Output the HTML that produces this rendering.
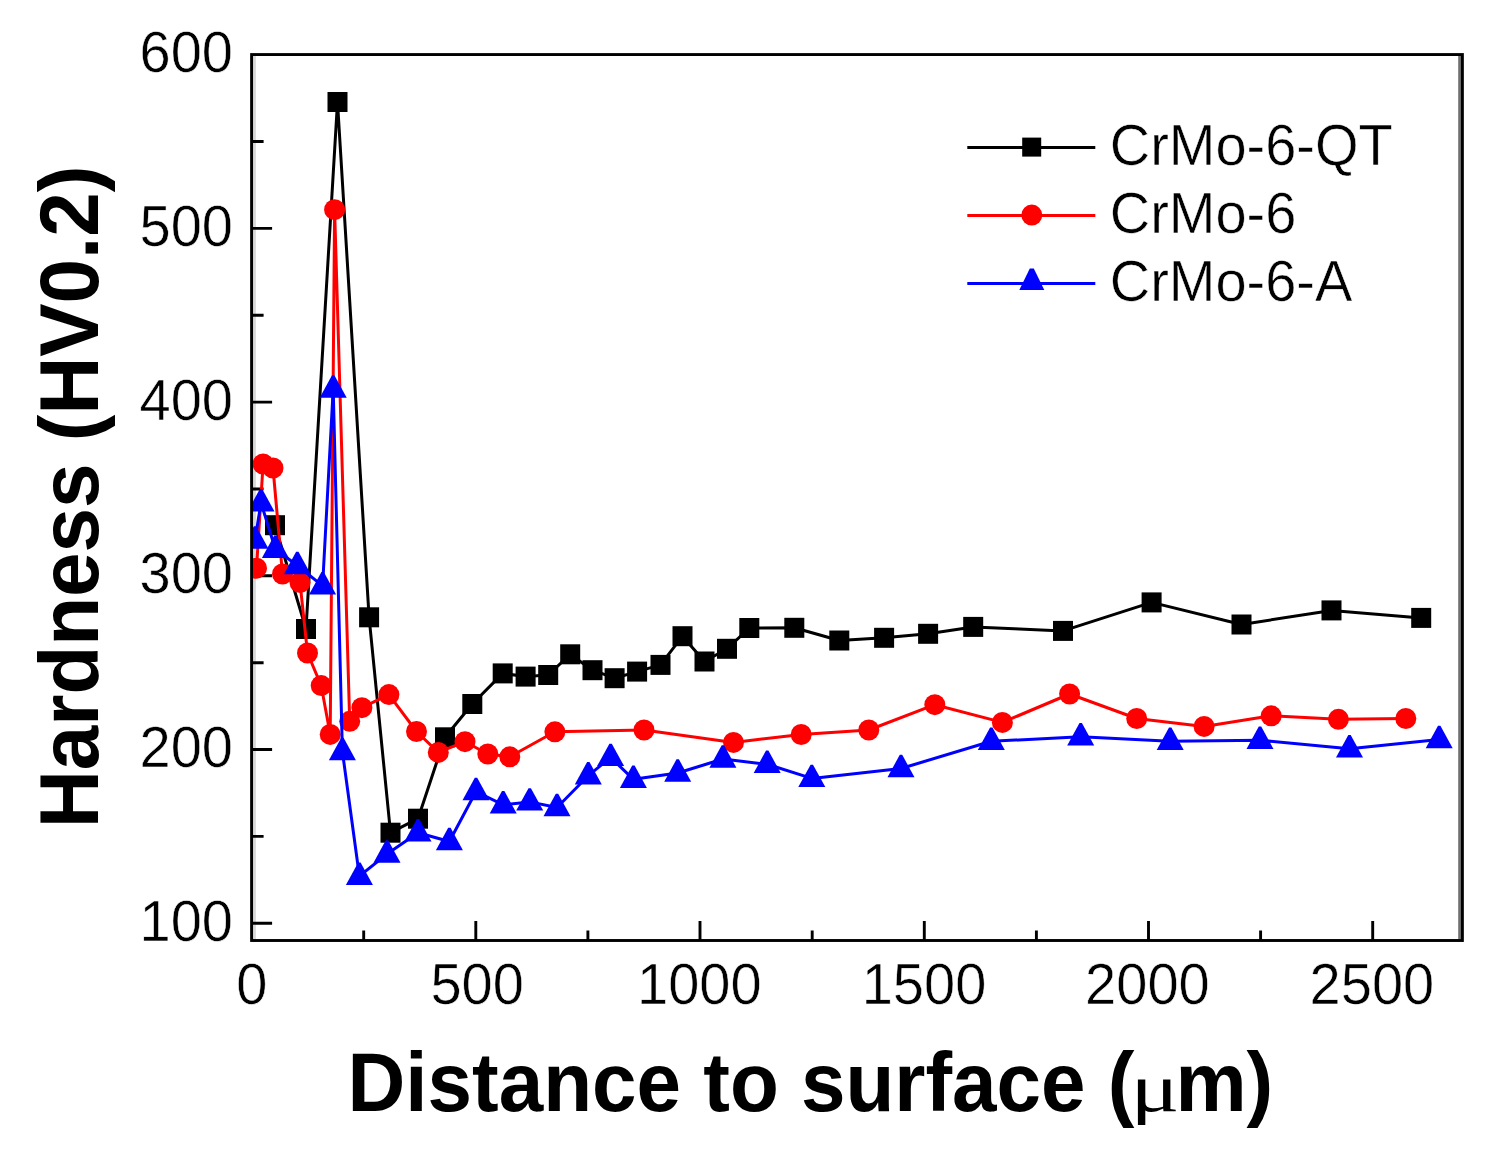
<!DOCTYPE html>
<html lang="en"><head><meta charset="utf-8"><title>Hardness vs distance to surface</title>
<style>html,body{margin:0;padding:0;background:#fff}svg{display:block;filter:blur(.55px)}text{font-family:"Liberation Sans",Arial,sans-serif;fill:#000}.b{font-weight:bold}.s{font-family:"Liberation Serif",serif;font-weight:normal}.t text{stroke:#fff;stroke-width:.5px}</style>
</head><body>
<svg width="1507" height="1170" viewBox="0 0 1507 1170">
<rect width="1507" height="1170" fill="#fff"/>
<defs><clipPath id="c"><rect x="252.9" y="56.0" width="1208.2" height="883.1"/></clipPath></defs>
<path d="M254.5 56V939" stroke="#d8d8d8" stroke-width="2.8"/>
<path d="M1459.6 56V939" stroke="#707070" stroke-width="2.8"/>
<g stroke="#000" stroke-width="2.9" fill="none">
<rect x="251.60" y="54.55" width="1210.80" height="885.95"/>
<path d="M475.8 940.5v-19.5M700.0 940.5v-19.5M924.3 940.5v-19.5M1148.5 940.5v-19.5M1372.7 940.5v-19.5M363.7 940.5v-10M587.9 940.5v-10M812.2 940.5v-10M1036.4 940.5v-10M1260.6 940.5v-10M251.6 923.2h20.5M251.6 749.5h20.5M251.6 575.8h20.5M251.6 402.1h20.5M251.6 228.4h20.5M251.6 836.4h12M251.6 662.7h12M251.6 489.0h12M251.6 315.2h12M251.6 141.5h12"/>
</g>
<g clip-path="url(#c)" fill="none" stroke-linejoin="round">
<polyline points="275.0,525.2 306.0,629.0 337.5,102.0 369.1,617.3 390.5,832.7 418.0,818.7 445.0,737.3 472.3,704.0 502.7,673.4 525.6,676.6 548.2,675.0 570.2,654.3 592.5,670.2 614.6,678.2 637.1,671.6 660.5,664.9 682.5,636.2 704.5,661.5 727.0,648.8 749.3,628.0 794.3,627.8 839.3,640.5 884.1,637.8 928.1,633.8 973.2,626.9 1063.0,630.9 1151.6,602.4 1241.5,624.5 1331.5,610.4 1421.2,617.9" stroke="#000" stroke-width="3.0"/>
<g fill="#000"><rect x="265.0" y="515.2" width="20" height="20"/><rect x="296.0" y="619.0" width="20" height="20"/><rect x="327.5" y="92.0" width="20" height="20"/><rect x="359.1" y="607.3" width="20" height="20"/><rect x="380.5" y="822.7" width="20" height="20"/><rect x="408.0" y="808.7" width="20" height="20"/><rect x="435.0" y="727.3" width="20" height="20"/><rect x="462.3" y="694.0" width="20" height="20"/><rect x="492.7" y="663.4" width="20" height="20"/><rect x="515.6" y="666.6" width="20" height="20"/><rect x="538.2" y="665.0" width="20" height="20"/><rect x="560.2" y="644.3" width="20" height="20"/><rect x="582.5" y="660.2" width="20" height="20"/><rect x="604.6" y="668.2" width="20" height="20"/><rect x="627.1" y="661.6" width="20" height="20"/><rect x="650.5" y="654.9" width="20" height="20"/><rect x="672.5" y="626.2" width="20" height="20"/><rect x="694.5" y="651.5" width="20" height="20"/><rect x="717.0" y="638.8" width="20" height="20"/><rect x="739.3" y="618.0" width="20" height="20"/><rect x="784.3" y="617.8" width="20" height="20"/><rect x="829.3" y="630.5" width="20" height="20"/><rect x="874.1" y="627.8" width="20" height="20"/><rect x="918.1" y="623.8" width="20" height="20"/><rect x="963.2" y="616.9" width="20" height="20"/><rect x="1053.0" y="620.9" width="20" height="20"/><rect x="1141.6" y="592.4" width="20" height="20"/><rect x="1231.5" y="614.5" width="20" height="20"/><rect x="1321.5" y="600.4" width="20" height="20"/><rect x="1411.2" y="607.9" width="20" height="20"/></g>
<polyline points="256.5,568.2 263.1,464.0 273.0,468.0 282.5,574.0 300.0,582.5 307.5,653.0 321.2,685.6 330.2,734.4 334.6,209.7 349.7,721.3 361.9,707.7 388.9,694.6 416.5,731.5 438.3,752.4 465.0,741.7 487.8,754.0 509.8,756.8 554.9,731.8 644.0,730.0 733.5,742.4 801.2,734.5 868.8,730.0 934.8,704.7 1002.4,722.4 1069.6,694.0 1136.7,718.5 1204.1,726.4 1271.2,715.8 1338.4,719.3 1405.8,718.5" stroke="#f00" stroke-width="3.0"/>
<g fill="#f00"><circle cx="256.5" cy="568.2" r="10.5"/><circle cx="263.1" cy="464.0" r="10.5"/><circle cx="273.0" cy="468.0" r="10.5"/><circle cx="282.5" cy="574.0" r="10.5"/><circle cx="300.0" cy="582.5" r="10.5"/><circle cx="307.5" cy="653.0" r="10.5"/><circle cx="321.2" cy="685.6" r="10.5"/><circle cx="330.2" cy="734.4" r="10.5"/><circle cx="334.6" cy="209.7" r="10.5"/><circle cx="349.7" cy="721.3" r="10.5"/><circle cx="361.9" cy="707.7" r="10.5"/><circle cx="388.9" cy="694.6" r="10.5"/><circle cx="416.5" cy="731.5" r="10.5"/><circle cx="438.3" cy="752.4" r="10.5"/><circle cx="465.0" cy="741.7" r="10.5"/><circle cx="487.8" cy="754.0" r="10.5"/><circle cx="509.8" cy="756.8" r="10.5"/><circle cx="554.9" cy="731.8" r="10.5"/><circle cx="644.0" cy="730.0" r="10.5"/><circle cx="733.5" cy="742.4" r="10.5"/><circle cx="801.2" cy="734.5" r="10.5"/><circle cx="868.8" cy="730.0" r="10.5"/><circle cx="934.8" cy="704.7" r="10.5"/><circle cx="1002.4" cy="722.4" r="10.5"/><circle cx="1069.6" cy="694.0" r="10.5"/><circle cx="1136.7" cy="718.5" r="10.5"/><circle cx="1204.1" cy="726.4" r="10.5"/><circle cx="1271.2" cy="715.8" r="10.5"/><circle cx="1338.4" cy="719.3" r="10.5"/><circle cx="1405.8" cy="718.5" r="10.5"/></g>
<polyline points="255.0,540.0 261.0,502.8 275.4,549.2 297.3,565.5 322.6,585.8 333.2,389.0 342.4,751.5 359.4,876.2 387.0,854.0 418.0,832.7 449.4,841.5 476.0,791.5 503.2,804.8 529.7,801.9 557.0,807.5 588.3,775.7 610.6,757.4 633.4,779.3 677.7,773.0 722.9,759.0 767.2,764.3 811.8,778.4 901.0,768.5 991.3,741.3 1080.7,736.8 1170.2,741.3 1260.0,740.3 1349.5,748.8 1439.2,739.5" stroke="#00f" stroke-width="3.0"/>
<g fill="#00f"><polygon points="253.8,526.3 256.2,526.3 268.5,548.7 241.5,548.7"/><polygon points="259.8,489.1 262.2,489.1 274.5,511.5 247.5,511.5"/><polygon points="274.2,535.5 276.6,535.5 288.9,557.9 261.9,557.9"/><polygon points="296.1,551.8 298.5,551.8 310.8,574.2 283.8,574.2"/><polygon points="321.4,572.1 323.8,572.1 336.1,594.5 309.1,594.5"/><polygon points="332.0,375.3 334.4,375.3 346.7,397.7 319.7,397.7"/><polygon points="341.2,737.8 343.6,737.8 355.9,760.2 328.9,760.2"/><polygon points="358.2,862.5 360.6,862.5 372.9,884.9 345.9,884.9"/><polygon points="385.8,840.3 388.2,840.3 400.5,862.7 373.5,862.7"/><polygon points="416.8,819.0 419.2,819.0 431.5,841.4 404.5,841.4"/><polygon points="448.2,827.8 450.6,827.8 462.9,850.2 435.9,850.2"/><polygon points="474.8,777.8 477.2,777.8 489.5,800.2 462.5,800.2"/><polygon points="502.0,791.1 504.4,791.1 516.7,813.5 489.7,813.5"/><polygon points="528.5,788.2 530.9,788.2 543.2,810.6 516.2,810.6"/><polygon points="555.8,793.8 558.2,793.8 570.5,816.2 543.5,816.2"/><polygon points="587.1,762.0 589.5,762.0 601.8,784.4 574.8,784.4"/><polygon points="609.4,743.7 611.8,743.7 624.1,766.1 597.1,766.1"/><polygon points="632.2,765.6 634.6,765.6 646.9,788.0 619.9,788.0"/><polygon points="676.5,759.3 678.9,759.3 691.2,781.7 664.2,781.7"/><polygon points="721.7,745.3 724.1,745.3 736.4,767.7 709.4,767.7"/><polygon points="766.0,750.6 768.4,750.6 780.7,773.0 753.7,773.0"/><polygon points="810.6,764.7 813.0,764.7 825.3,787.1 798.3,787.1"/><polygon points="899.8,754.8 902.2,754.8 914.5,777.2 887.5,777.2"/><polygon points="990.1,727.6 992.5,727.6 1004.8,750.0 977.8,750.0"/><polygon points="1079.5,723.1 1081.9,723.1 1094.2,745.5 1067.2,745.5"/><polygon points="1169.0,727.6 1171.4,727.6 1183.7,750.0 1156.7,750.0"/><polygon points="1258.8,726.6 1261.2,726.6 1273.5,749.0 1246.5,749.0"/><polygon points="1348.3,735.1 1350.7,735.1 1363.0,757.5 1336.0,757.5"/><polygon points="1438.0,725.8 1440.4,725.8 1452.7,748.2 1425.7,748.2"/></g>
</g>
<g font-size="56" text-anchor="end" class="t">
<text transform="translate(233.0 940.7) scale(1 1.040)">100</text>
<text transform="translate(233.0 767.0) scale(1 1.040)">200</text>
<text transform="translate(233.0 593.3) scale(1 1.040)">300</text>
<text transform="translate(233.0 419.6) scale(1 1.040)">400</text>
<text transform="translate(233.0 245.9) scale(1 1.040)">500</text>
<text transform="translate(233.0 72.2) scale(1 1.040)">600</text>
</g>
<g font-size="56" text-anchor="middle" class="t">
<text transform="translate(251.8 1004.3) scale(1 1.040)">0</text>
<text transform="translate(477.1 1004.3) scale(1 1.040)">500</text>
<text transform="translate(699.3 1004.3) scale(1 1.040)">1000</text>
<text transform="translate(924.0 1004.3) scale(1 1.040)">1500</text>
<text transform="translate(1147.4 1004.3) scale(1 1.040)">2000</text>
<text transform="translate(1371.9 1004.3) scale(1 1.040)">2500</text>
</g>
<text transform="translate(347.6 1111.0) scale(1 1.040)" class="b" font-size="80">Distance to surface (<tspan class="s" x="782.9" font-size="65.4" textLength="49" lengthAdjust="spacingAndGlyphs">μ</tspan><tspan x="827.9">m)</tspan></text>
<text class="b" font-size="80" transform="translate(97.8 828) rotate(-90) scale(1 1.040)">Hardness (HV0.2)</text>
<path d="M967.3 147.4H1095.3" stroke="#000" stroke-width="3.0"/>
<path d="M967.3 215.5H1095.3" stroke="#f00" stroke-width="3.0"/>
<path d="M967.3 283.5H1095.3" stroke="#00f" stroke-width="3.0"/>
<rect x="1022.2" y="137.6" width="19" height="19" fill="#000"/>
<circle cx="1031.8" cy="215.1" r="10.5" fill="#f00"/>
<polygon points="1029.8,268.5 1033.8,268.5 1044.3,290.1 1019.3,290.1" fill="#00f"/>
<g font-size="56" class="t">
<text transform="translate(1109.7 164.7) scale(1 1.040)">CrMo-6-QT</text>
<text transform="translate(1109.7 232.7) scale(1 1.040)">CrMo-6</text>
<text transform="translate(1109.7 300.7) scale(1 1.040)">CrMo-6-A</text>
</g>
</svg>
</body></html>
